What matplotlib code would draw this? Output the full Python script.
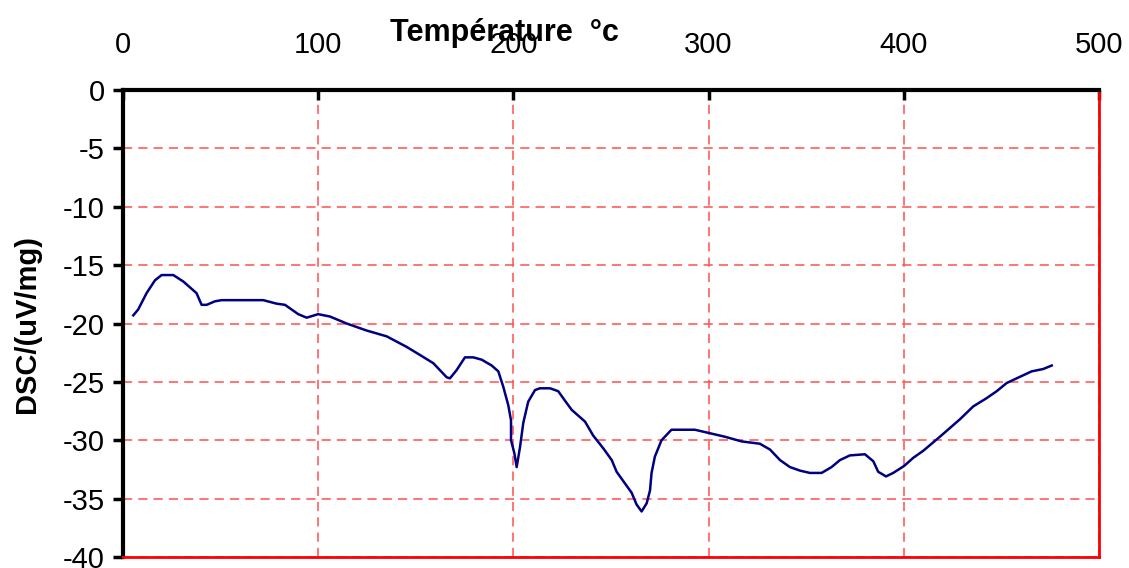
import numpy as np
import matplotlib
matplotlib.use("Agg")
import matplotlib.pyplot as plt

plt.rcParams['font.family'] = ['Liberation Sans', 'DejaVu Sans']
plt.rcParams['axes.unicode_minus'] = False

# DSC curve, temperature (°C) vs heat flow (uV/mg)
temperature = [5.3, 7.8, 12.1, 16.4, 19.8, 25.8, 30.9, 37.7, 40.3, 42.9, 47.1, 50.5,
               71.9, 78.7, 83.0, 89.8, 94.1, 100.0, 106.0, 114.6, 124.8, 135.1, 145.3,
               152.2, 159.0, 165.8, 167.5, 170.9, 175.2, 179.5, 183.8, 188.9, 192.3,
               194.8, 197.4, 198.8, 198.8, 200.5, 201.7, 203.4, 205.1, 207.6, 211.1,
               213.6, 218.8, 223.0, 226.4, 229.9, 236.7, 240.9, 246.1, 250.4, 252.9,
               260.6, 263.1, 265.7, 268.3, 270.0, 270.8, 272.5, 275.9, 281.0, 293.0,
               300.7, 308.4, 316.9, 326.3, 331.5, 336.6, 341.7, 346.8, 351.9, 357.9,
               363.0, 367.3, 372.4, 380.1, 384.4, 386.9, 390.9, 394.6, 400.2, 404.9,
               410.0, 418.5, 428.8, 435.6, 442.4, 447.6, 452.7, 457.8, 465.5, 471.4,
               475.8]
dsc = [-19.3, -18.8, -17.4, -16.3, -15.85, -15.85, -16.4, -17.4, -18.4, -18.4, -18.1, -18.0,
       -18.0, -18.3, -18.4, -19.2, -19.5, -19.2, -19.4, -20.0, -20.6, -21.1, -22.0,
       -22.7, -23.4, -24.6, -24.7, -24.0, -22.9, -22.9, -23.1, -23.6, -24.1,
       -25.4, -27.0, -28.3, -30.0, -31.1, -32.3, -30.6, -28.5, -26.7, -25.7,
       -25.55, -25.55, -25.8, -26.6, -27.4, -28.4, -29.6, -30.7, -31.7, -32.7,
       -34.5, -35.5, -36.1, -35.4, -34.3, -32.8, -31.4, -30.0, -29.1, -29.1,
       -29.4, -29.7, -30.1, -30.3, -30.8, -31.7, -32.3, -32.6, -32.8, -32.8,
       -32.3, -31.7, -31.3, -31.2, -31.8, -32.7, -33.1, -32.8, -32.2, -31.5,
       -30.9, -29.7, -28.2, -27.1, -26.4, -25.8, -25.1, -24.7, -24.1, -23.9,
       -23.6]

x_ticks = [0, 100, 200, 300, 400, 500]
y_ticks = [0, -5, -10, -15, -20, -25, -30, -35, -40]

fig = plt.figure(figsize=(11.29, 5.68), dpi=100)
ax = fig.add_axes([0.1089, 0.0194, 0.8645, 0.8221])

ax.plot(temperature, dsc, color='#000080', lw=1.8)

ax.set_xlim(0, 500)
ax.set_ylim(-40, 0)
ax.set_xticks(x_ticks)
ax.set_yticks(y_ticks)
ax.xaxis.tick_top()
ax.xaxis.set_label_position('top')
ax.tick_params(axis='x', direction='in', length=7, width=2.5, labelsize=21, pad=22)
ax.tick_params(axis='y', direction='out', length=7, width=2.5, labelsize=21, pad=6)

ax.grid(True, color='#ff5050', linestyle=(0, (6, 4)), lw=1.1)

ax.spines['left'].set_color('black')
ax.spines['left'].set_linewidth(3)
ax.spines['top'].set_color('black')
ax.spines['top'].set_linewidth(3)
ax.spines['right'].set_color('red')
ax.spines['right'].set_linewidth(2)
ax.spines['bottom'].set_color('red')
ax.spines['bottom'].set_linewidth(2)
ax.spines['top'].set_zorder(5)

# axis title sits just over the tick labels, left of centre
ax.set_xlabel('Température  °c', fontsize=22, fontweight='bold')
ax.xaxis.set_label_coords(0.391, 1.105)
ax.set_ylabel('DSC/(uV/mg)', fontsize=21, fontweight='bold', labelpad=16)

fig.savefig('out.png', dpi=100)
